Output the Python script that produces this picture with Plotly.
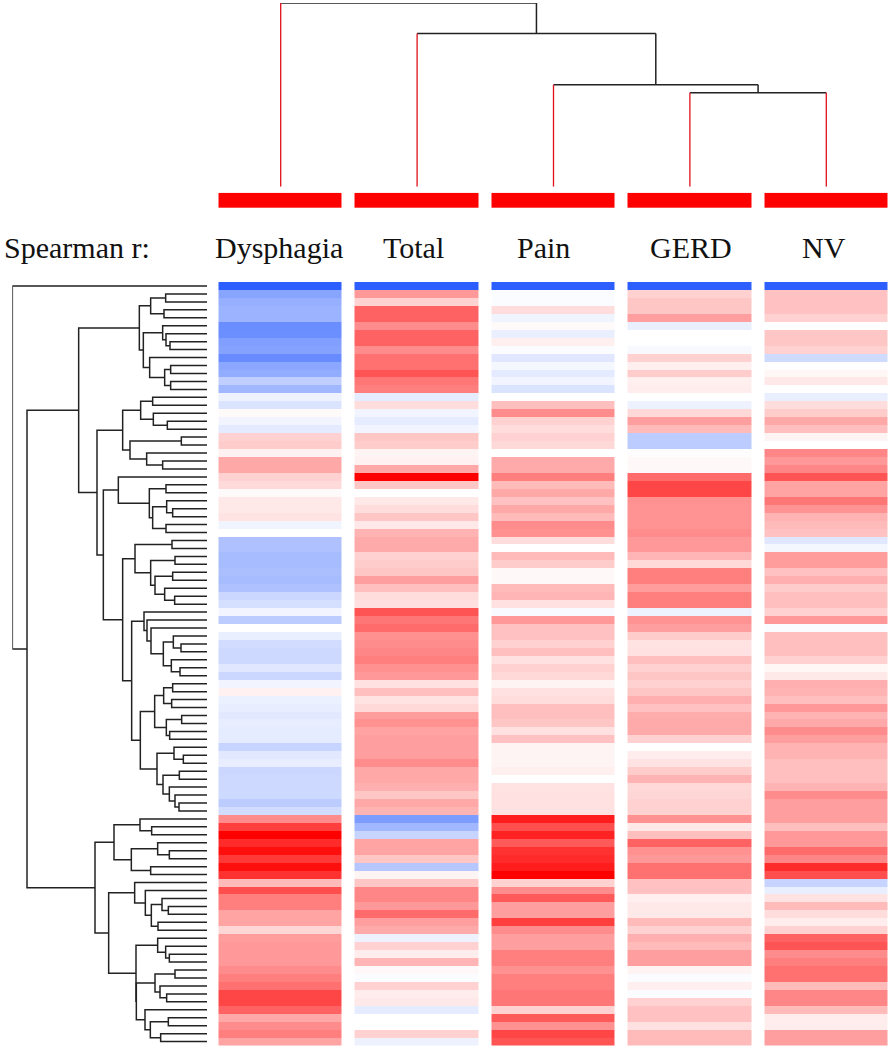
import plotly.graph_objects as go

W, H = 895, 1050

columns = ["Dysphagia", "Total", "Pain", "GERD", "NV"]
row_label_title = "Spearman r:"

dysphagia = [-1, -.57, -.5, -.47, -.47, -.71, -.7, -.6, -.58, -.72, -.55, -.52, -.3, -.45,
             -.08, -.17, .02, -.06, -.13, .2, .22, .06, .38, .38, .2, .16, .02, .1, .1, .12, -.07, 0,
             -.38, -.38, -.42, -.42, -.4, -.42, -.38, -.25, -.2, -.06, -.32, 0, -.1, -.22, -.24, -.24, -.15, -.25,
             -.06, .06, -.09, -.11, -.14, -.11, -.12, -.12, -.27, -.14, -.11, -.25, -.24, -.24, -.24, -.32, -.22,
             .5, .78, 1, .85, .95, .8, .95, .82, .3, .72, .55, .55, .4, .4, .18, .43, .45, .45, .45, .5, .55, .6, .75, .75, .65, .38, .5, .55, .4]
total = [-1, .45, .2, .65, .65, .5, .65, .65, .5, .6, .6, .7, .58, .55,
         -.12, .15, -.06, -.12, -.06, .25, .22, .05, .06, .38, 1, .25, 0, .1, .15, .25, .1, .33,
         .37, .37, .2, .22, .25, .42, .28, .15, .14, .7, .58, .62, .48, .5, .52, .55, .48, .45,
         .13, .28, .12, .17, .43, .48, .4, .42, .42, .42, .5, .38, .38, .35, .25, .38, .33,
         -.62, -.45, -.27, .4, .4, .25, -.35, .05, .25, .52, .52, .45, .62, .42, .37, -.08, .2, .08, .32, .03, -.02, .2, .08, .1, -.12, 0, 0, .2, -.08]
pain = [-1, -.02, -.02, .15, -.07, .02, -.1, .07, -.02, -.15, -.05, -.13, -.06, -.17, 0, .28, .5, .2, .15, .2, .17, 0, .37, .37, .55, .3, .38, .27, .38, .3, .5, .48,
        .15, 0, .3, .22, .03, .03, .3, .32, .13, -.03, .45, .27, .27, .2, .28, .13, .2, .17, .05, .13, .15, .28, .28, .25, .13, .27, .05, .05, .05, .07, 0, .12, .13,
        .13, .13, .9, .72, .88, .68, .82, .85, .9, 1, .2, .5, .68, .42, .42, .78, .5, .42, .42, .55, .55, .48, .55, .55, .58, .58, .2, .68, .48, .75, .7]
gerd = [-1, .2, .25, .25, .42, -.1, 0, 0, -.04, .2, .07, .22, .07, .08, 0, -.08, .17, .42, .3, -.32, -.32, -.01, .03, .03, .62, .75, .75, .48, .47, .47, .47, .5,
        .45, .45, .32, .17, .55, .55, .43, .55, .55, -.08, .47, .42, .22, .12, .13, .28, .2, .25, .2, .25, .35, .27, .36, .37, .37, .2, 0, .08, .12, .22, .33, .17, .18,
        .2, .2, .48, .1, .28, .65, .48, .45, .6, .6, .27, .27, .07, .1, .1, .3, .2, .35, .3, .42, .42, .05, -.02, .07, -.02, .2, .27, .27, .13, .3, .3]
nv = [-1, .27, .27, .27, .2, 0, .25, .25, .2, -.23, .01, .04, .1, 0, -.1, .15, .22, .38, .28, .05, 0, .52, .45, .52, .7, .4, .4, .58, .47, .33, .3, .27,
      -.15, -.05, .43, .43, .27, .35, .22, .28, .28, .2, .45, -.02, .28, .28, .28, .2, .04, .1, .35, .33, .28, .45, .33, .37, .5, .42, .33, .33, .28, .28, .28, .33, .5,
      .42, .42, .42, .28, .45, .45, .62, .52, .85, .72, -.27, -.1, .12, .3, .15, .08, .2, .65, .7, .5, .55, .6, .6, .3, .52, .52, .3, .08, .08, .42, .42]
column_group = [1, 1, 1, 1, 1]

# Column tree: [merge height, left, right]; an integer is a column index
column_tree = [184, 0, [153.5, 1, [102, 2, [94, 3, 4]]]]

# Row tree: [merge position, left, right]; None is the next row in order
L = None
rows_a = [418, [452, [497, L, L], [492, L, L]],
          [430, [488, L, [498, L, [510, L, L]]], [449, L, [494, [512, L, L], [512, L, L]]]]]
rows_b = [368, [422, [458, L, L], [460, L, [502, L, L]]], [390, [544, L, L], [440, L, [488, L, L]]]]
rows_c = [355, L, [448, [498, L, L], [458, [500, L, [518, L, L]], [498, L, L]]]]
rows_d = [405, [516, L, L], [452, [525, L, L], [465, [518, L, L], [494, L, [524, L, L]]]]]
rows_e = [432, L, [441, L, [453, L, [490, [520, L, [543, L, L]], [514, L, [540, L, L]]]]]]
rows_f = [464, [491, [518, L, L], [515, L, L]], [499, [545, L, L], [509, L, L]]]
rows_g = [471, [522, L, [550, L, L]], [489, [538, L, L], [508, L, [525, L, [537, L, L]]]]]
rows_h = [342, [420, L, [455, L, L]], [394, [473, L, [508, L, L]], [452, L, L]]]
rows_i = [404, L, [436, L, [454, [486, L, [505, L, L]], [474, L, L]]]]
rows_j = [408, [473, L, [497, L, [508, L, L]]],
          [409, [465, [525, L, L], [480, L, [500, L, L]]], [435, L, [451, [505, L, L], [482, L, L]]]]]
row_tree = [37, L, [81,
                    [236, rows_a, [291, rows_b, [310, rows_c, [368, rows_d, [395, rows_e, [421, rows_f, rows_g]]]]]],
                    [285, rows_h, [326, rows_i, rows_j]]]]
ROW_TIP = 621

for c in (dysphagia, total, pain, gerd, nv):
    assert len(c) == 96, len(c)

n_rows = len(dysphagia)
z = [[dysphagia[i], total[i], pain[i], gerd[i], nv[i]] for i in range(n_rows)]
col_idx = list(range(len(columns)))
row_idx = list(range(n_rows))


def walk_rows(node, counter, xs, ys):
    if node is None:
        i = counter[0]
        counter[0] += 1
        return ROW_TIP, i
    xa, ya = walk_rows(node[1], counter, xs, ys)
    xb, yb = walk_rows(node[2], counter, xs, ys)
    x = node[0]
    xs += [xa, x, x, xb, None]
    ys += [ya, ya, yb, yb, None]
    return x, (ya + yb) / 2


def walk_cols(node, bx, by, rx, ry):
    if isinstance(node, int):
        return node, 0
    xa, ha = walk_cols(node[1], bx, by, rx, ry)
    xb, hb = walk_cols(node[2], bx, by, rx, ry)
    h = node[0]
    for xc, hc in ((xa, ha), (xb, hb)):
        if hc == 0:
            rx += [xc, xc, None]
            ry += [0, h, None]
        else:
            bx += [xc, xc, None]
            by += [hc, h, None]
    bx += [xa, xb, None]
    by += [h, h, None]
    return (xa + xb) / 2, h


rxs, rys = [], []
walk_rows(row_tree, [0], rxs, rys)
bx, by, rx, ry = [], [], [], []
walk_cols(column_tree, bx, by, rx, ry)

colorscale = [[0, "#2d5fff"], [0.5, "#ffffff"], [0.75, "#ff8c8c"], [1, "#ff0000"]]
fig = go.Figure()
fig.add_trace(go.Heatmap(z=z, x=col_idx, y=row_idx, xaxis="x", yaxis="y", zmin=-1, zmax=1,
                         colorscale=colorscale, showscale=False, xgap=13, hoverinfo="skip"))
fig.add_trace(go.Heatmap(z=[column_group], x=col_idx, y=[0], xaxis="x", yaxis="y3", zmin=0, zmax=1,
                         colorscale=[[0, "#ffffff"], [1, "#ff0000"]], showscale=False, xgap=13, hoverinfo="skip"))
fig.add_trace(go.Scatter(x=rxs, y=rys, xaxis="x2", yaxis="y", mode="lines",
                         line=dict(color="#222222", width=1.5), hoverinfo="skip", cliponaxis=False))
fig.add_trace(go.Scatter(x=bx, y=by, xaxis="x", yaxis="y2", mode="lines",
                         line=dict(color="#222222", width=1.5), hoverinfo="skip", cliponaxis=False))
fig.add_trace(go.Scatter(x=rx, y=ry, xaxis="x", yaxis="y2", mode="lines",
                         line=dict(color="#e0101a", width=1.3), hoverinfo="skip", cliponaxis=False))

hidden = dict(visible=False, showgrid=False, zeroline=False, fixedrange=True)
label_px = [279, 413, 543, 691, 824]
label_font = dict(family="Liberation Serif", size=30, color="#111111")
annotations = [dict(text=t, x=p / W, y=1 - 247 / H, xref="paper", yref="paper", xanchor="center", yanchor="middle",
                    showarrow=False, font=label_font)
               for t, p in zip(columns, label_px)]
annotations.append(dict(text=row_label_title, x=2 / W, y=1 - 247 / H, xref="paper", yref="paper",
                        xanchor="left", yanchor="middle", showarrow=False, font=label_font))

fig.update_layout(
    width=W, height=H, autosize=False, margin=dict(l=0, r=0, t=0, b=0), showlegend=False,
    paper_bgcolor="white", plot_bgcolor="white", annotations=annotations,
    xaxis=dict(hidden, domain=[212.5 / W, 894.5 / W], range=[-0.5, 4.5]),
    yaxis=dict(hidden, domain=[1 - 1045.6 / H, 1 - 282 / H], range=[95.5, -0.5]),
    xaxis2=dict(hidden, domain=[37 / 3 / W, 207 / W], range=[37, 621], anchor="y"),
    yaxis2=dict(hidden, domain=[1 - 186.7 / H, 1 - 3 / H], range=[0, 184], anchor="x"),
    yaxis3=dict(hidden, domain=[1 - 208 / H, 1 - 192.7 / H], range=[-0.5, 0.5], anchor="x"),
)
fig.write_html("out.html", post_script="document.body.style.margin='0';", config={"displayModeBar": False})
